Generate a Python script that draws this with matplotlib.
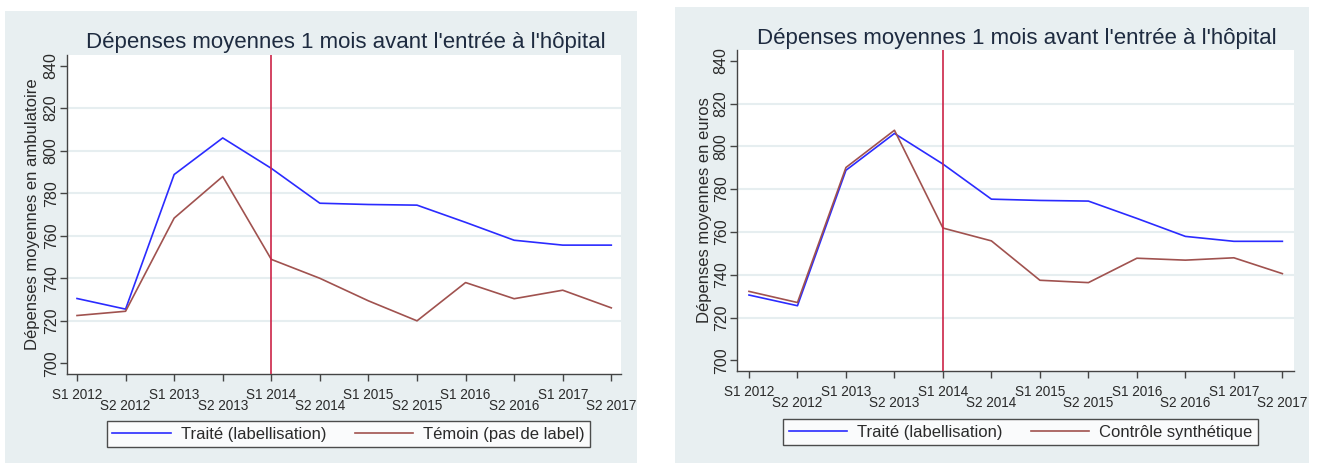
import matplotlib
matplotlib.use("Agg")
import matplotlib.pyplot as plt
from matplotlib.patches import Rectangle
from matplotlib.transforms import ScaledTranslation

plt.rcParams['font.family'] = ['Liberation Sans', 'DejaVu Sans']

periodes = ["S1 2012", "S2 2012", "S1 2013", "S2 2013", "S1 2014", "S2 2014",
            "S1 2015", "S2 2015", "S1 2016", "S2 2016", "S1 2017", "S2 2017"]
traite = [730.5, 725.5, 788.8, 806.0, 791.7, 775.3, 774.7, 774.4, 766.3, 757.9, 755.6, 755.6]
temoin = [722.5, 724.5, 768.3, 787.9, 748.9, 740.0, 729.4, 720.0, 738.0, 730.4, 734.4, 726.1]
controle = [732.2, 727.0, 790.1, 807.5, 761.8, 755.8, 737.4, 736.3, 747.7, 746.8, 747.9, 740.5]
y_ticks = [700, 720, 740, 760, 780, 800, 820, 840]
debut_label = 4  # S1 2014

titre = "Dépenses moyennes 1 mois avant l'entrée à l'hôpital"
bg = '#e8eff1'
grid_col = '#e6eef0'
bleu = '#2b2bff'
brun = '#a0524f'
rouge = '#cc2448'
txt = '#2a2a2a'

W, H = 1318, 463
fig = plt.figure(figsize=(W / 100, H / 100), dpi=100)
fig.patch.set_facecolor('white')


def px_rect(x0, y0, x1, y1):
    # pixel box (top-left origin) -> figure fraction [l, b, w, h]
    return [x0 / W, 1 - y1 / H, (x1 - x0) / W, (y1 - y0) / H]


panels = [
    dict(bg=(5, 11, 637, 463), ax=(67, 55, 621, 374), xlim=(-0.206, 11.2),
         title_x=346, title_y=48, ylabel="Dépenses moyennes en ambulatoire",
         ylab_x=33, other=temoin, other_label="Témoin (pas de label)",
         leg=(348.5, 434)),
    dict(bg=(675, 7, 1309, 463), ax=(737, 50, 1294, 371), xlim=(-0.247, 11.24),
         title_x=1017, title_y=44, ylabel="Dépenses moyennes en euros",
         ylab_x=704, other=controle, other_label="Contrôle synthétique",
         leg=(1020.5, 432)),
]

for p in panels:
    l, b, w, h = px_rect(*p['bg'])
    fig.patches.append(Rectangle((l, b), w, h, transform=fig.transFigure,
                                 facecolor=bg, edgecolor='none', zorder=-10))

    ax = fig.add_axes(px_rect(*p['ax']))
    ax.set_facecolor('white')
    x = list(range(len(periodes)))
    h1, = ax.plot(x, traite, color=bleu, lw=1.2, label="Traité (labellisation)", zorder=3)
    h2, = ax.plot(x, p['other'], color=brun, lw=1.2, label=p['other_label'], zorder=3)
    ax.axvline(debut_label, color=rouge, lw=1.2, zorder=4)

    ax.set_xlim(*p['xlim'])
    ax.set_ylim(695, 845)
    ax.set_yticks(y_ticks)
    ax.set_yticklabels([str(v) for v in y_ticks], rotation=90, va='center')
    ax.set_xticks(x)
    ax.set_xticklabels(periodes)

    ax.grid(axis='y', color=grid_col, lw=1.5, zorder=1)
    gl = ax.yaxis.get_gridlines()
    gl[0].set_visible(False)
    gl[-1].set_visible(False)

    for s in ['top', 'right']:
        ax.spines[s].set_visible(False)
    for s in ['left', 'bottom']:
        ax.spines[s].set_color('#444444')
        ax.spines[s].set_linewidth(1.0)
    ax.tick_params(axis='both', direction='out', length=5, width=1.0, color='#444444')
    ax.tick_params(axis='x', labelsize=9.8, labelcolor=txt, pad=5)
    ax.tick_params(axis='y', labelsize=11.5, labelcolor=txt, pad=1)

    for i, lab in enumerate(ax.get_xticklabels()):
        if i % 2 == 1:
            lab.set_transform(lab.get_transform() +
                              ScaledTranslation(0, -11 / 100, fig.dpi_scale_trans))

    ax.set_ylabel(p['ylabel'], fontsize=12, color=txt, va='center')
    ax.yaxis.set_label_coords((p['ylab_x'] - p['ax'][0]) / (p['ax'][2] - p['ax'][0]), 0.5)

    fig.text(p['title_x'] / W, 1 - p['title_y'] / H, titre, fontsize=16,
             color='#1e2b40', ha='center', va='baseline')

    leg = fig.legend(handles=[h1, h2], ncol=2, loc='center',
                     bbox_to_anchor=(p['leg'][0] / W, 1 - p['leg'][1] / H),
                     fontsize=12, frameon=True, fancybox=False, shadow=False,
                     handlelength=3.5, handletextpad=0.6, columnspacing=1.7,
                     borderpad=0.35, borderaxespad=0)
    leg.get_frame().set_edgecolor('#222222')
    leg.get_frame().set_linewidth(1.0)
    leg.get_frame().set_facecolor('white')
    for t in leg.get_texts():
        t.set_color(txt)

fig.savefig("out.png", dpi=100)
